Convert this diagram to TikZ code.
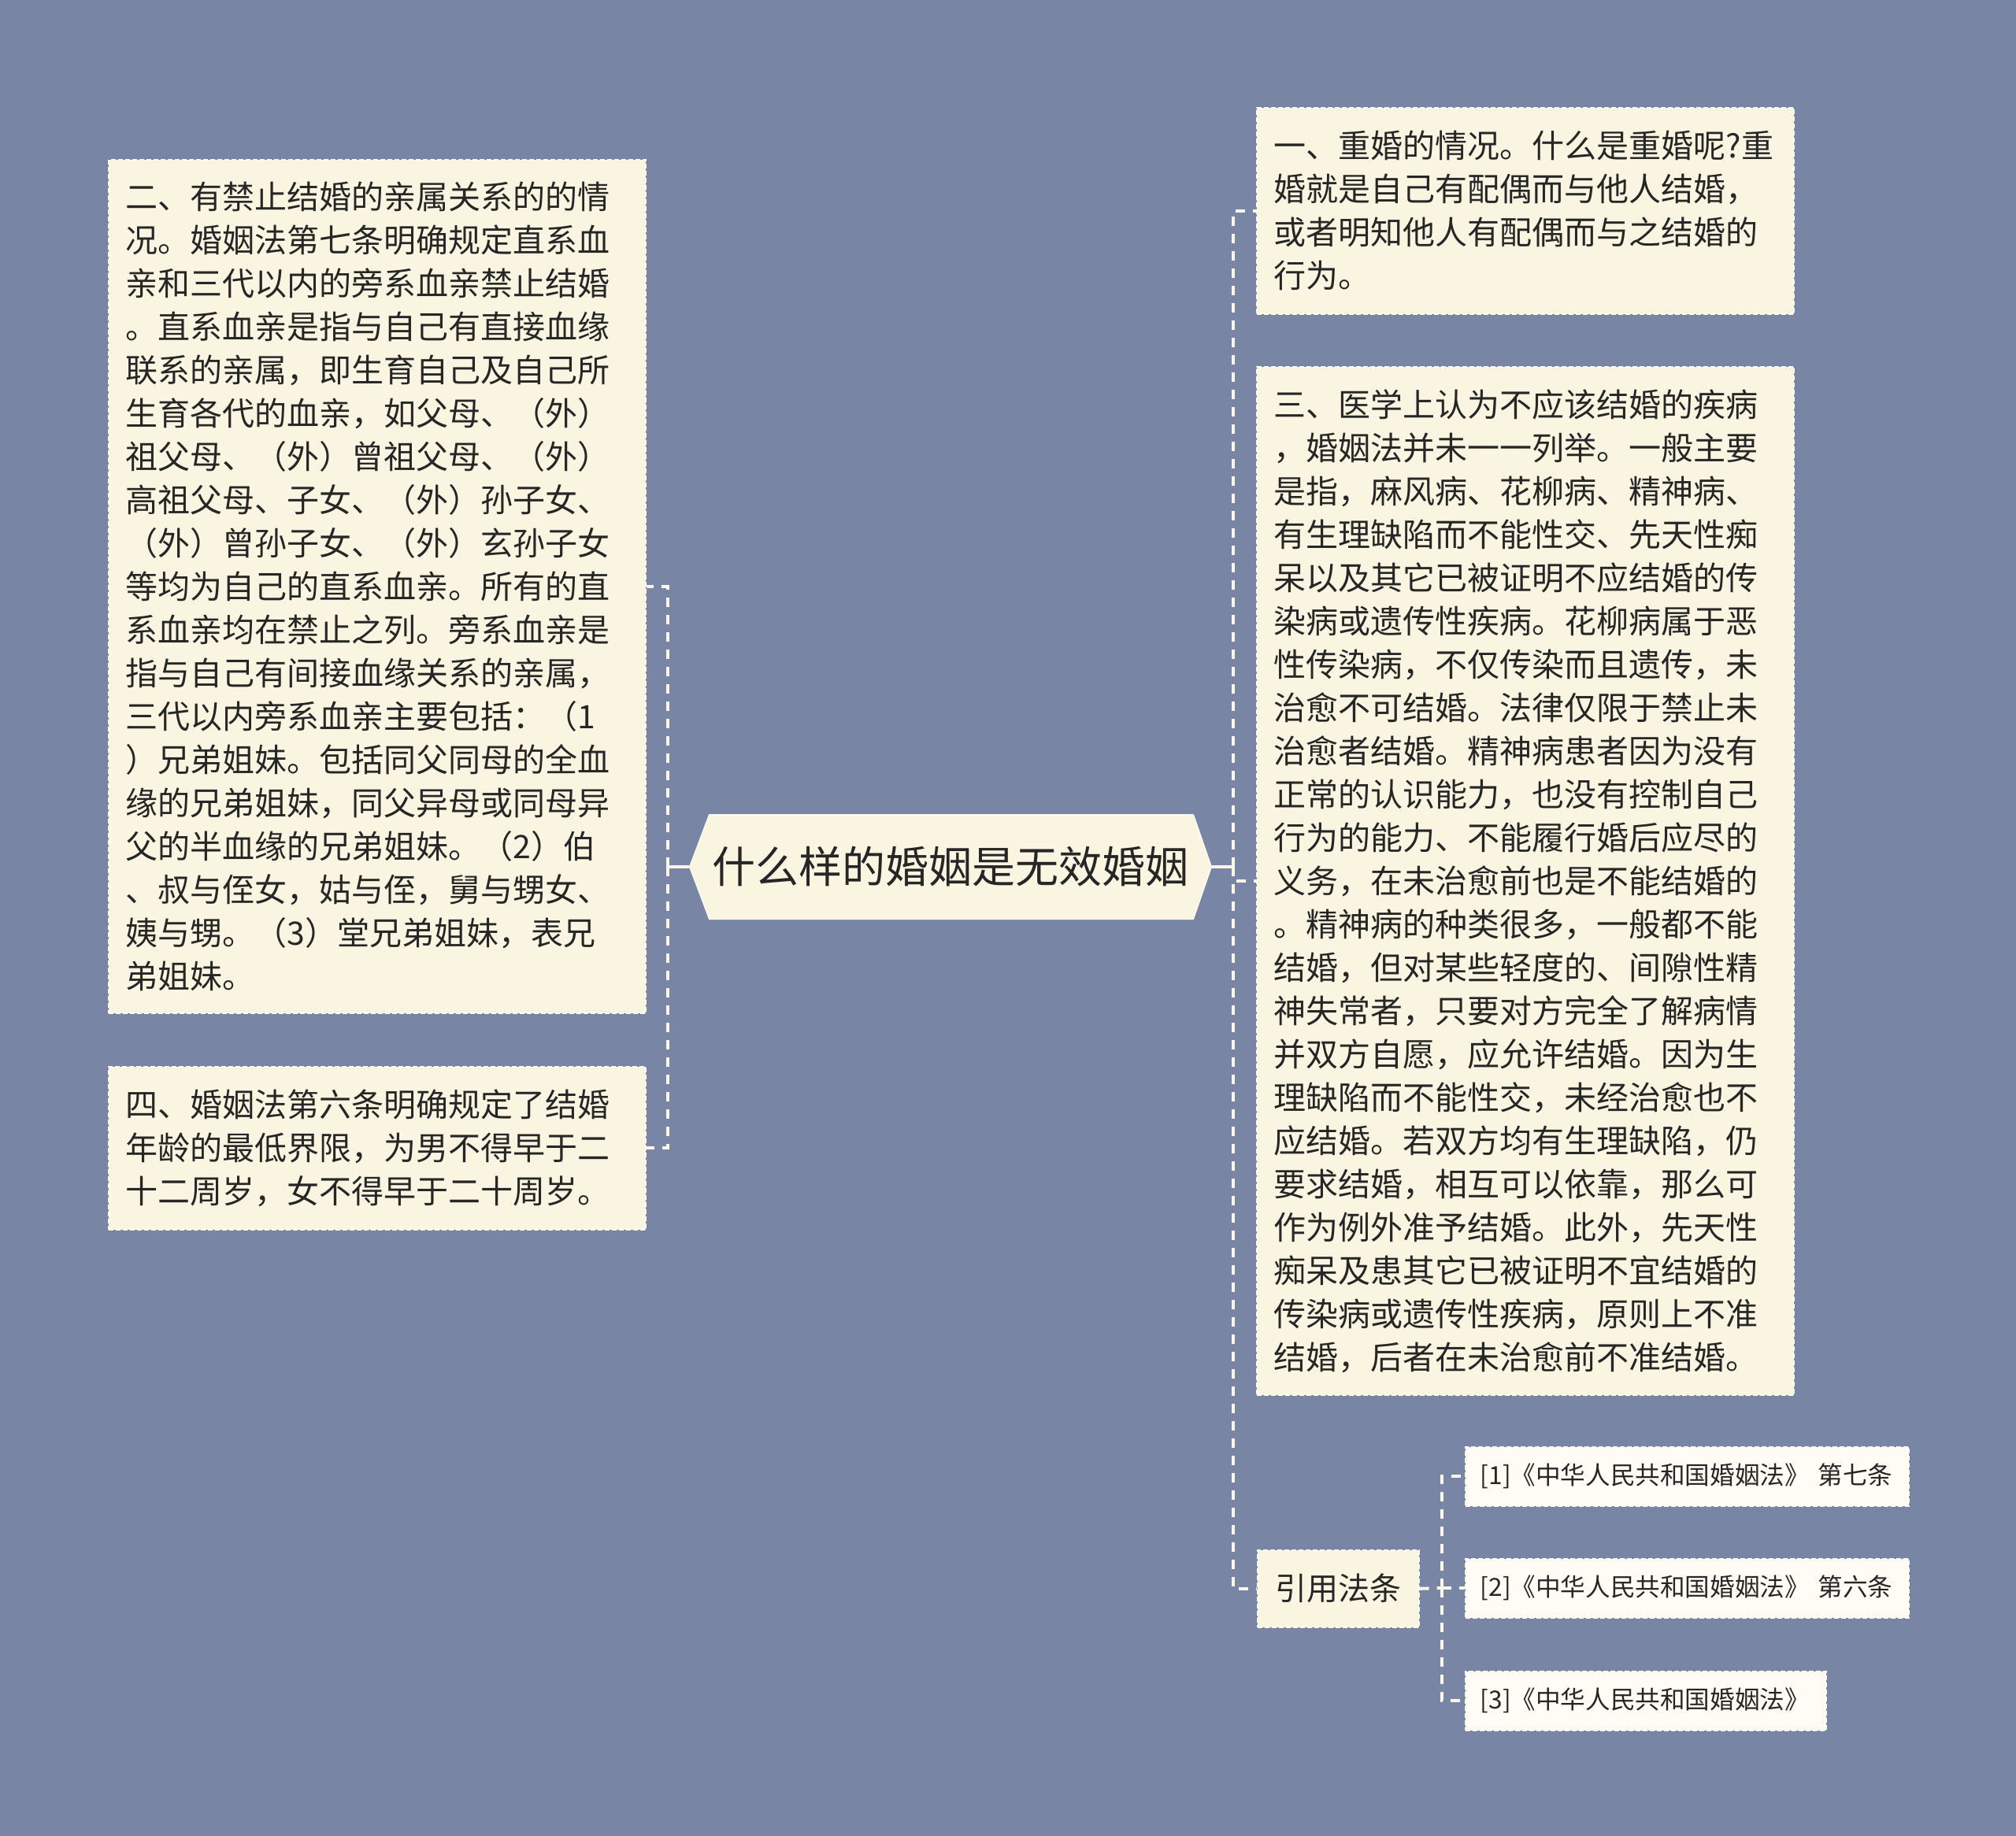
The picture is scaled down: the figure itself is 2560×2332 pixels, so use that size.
\documentclass[tikz,border=0pt]{standalone}
\usepackage{fontspec}
\setmainfont{Noto Sans CJK SC}
\usetikzlibrary{backgrounds,calc}
\definecolor{bg}{HTML}{7885A5}
\definecolor{cream}{HTML}{FAF5E1}
\definecolor{refc}{HTML}{FEFCF4}
\definecolor{linec}{HTML}{FAF6E8}
\definecolor{bordc}{HTML}{FFFDF2}
\definecolor{txt}{HTML}{262626}
\tikzset{
  box/.style={draw=bordc, fill=cream, line width=0.8pt, dash pattern=on 3pt off 1.5pt,
    inner xsep=11pt, inner ysep=0pt, text width=319pt, align=left, text=txt,
    font=\fontsize{20.5pt}{27.5pt}\selectfont, anchor=north west},
  citebox/.style={draw=bordc, fill=cream, line width=0.8pt, dash pattern=on 3pt off 1.5pt,
    inner sep=0pt, minimum width=102.5pt, minimum height=49pt, text=txt,
    font=\fontsize{20pt}{26pt}\selectfont, anchor=north west},
  refbox/.style={draw=bordc, fill=refc, line width=0.8pt, dash pattern=on 3pt off 1.5pt,
    inner xsep=9.5pt, inner ysep=0pt, minimum height=37.5pt, align=left, text=txt,
    font=\fontsize{15.8pt}{20pt}\selectfont, anchor=north west},
  rootnode/.style={inner sep=0pt, minimum width=331pt, minimum height=66pt, text=txt,
    font=\fontsize{27.5pt}{33pt}\selectfont},
  solidl/.style={draw=linec, line width=2pt},
  dashl/.style={draw=linec, line width=2pt, dash pattern=on 6pt off 5pt},
}
\begin{document}
\begin{tikzpicture}[x=0.5pt,y=-0.5pt]
\begin{scope}[on background layer]
\fill[bg] (0,0) rectangle (2560,2332);
\end{scope}
\useasboundingbox (0,0) rectangle (2560,2332);

% root
\node[rootnode] (root) at (1207,1101) {什么样的婚姻是无效婚姻};
\begin{scope}[on background layer]
\filldraw[fill=cream, draw=bordc, line width=0.6pt]
  ($(root.north west)+(25,0)$) -- ($(root.north east)+(-23,0)$) -- (root.east)
  -- ($(root.south east)+(-23,0)$) -- ($(root.south west)+(25,0)$) -- (root.west) -- cycle;
\end{scope}

% left boxes
\node[box, minimum height=542pt] (L1) at (137,202) {二、有禁止结婚的亲属关系的的情\\
况。婚姻法第七条明确规定直系血\\
亲和三代以内的旁系血亲禁止结婚\\
。直系血亲是指与自己有直接血缘\\
联系的亲属，即生育自己及自己所\\
生育各代的血亲，如父母、（外）\\
祖父母、（外）曾祖父母、（外）\\
高祖父母、子女、（外）孙子女、\\
（外）曾孙子女、（外）玄孙子女\\
等均为自己的直系血亲。所有的直\\
系血亲均在禁止之列。旁系血亲是\\
指与自己有间接血缘关系的亲属，\\
三代以内旁系血亲主要包括：（1\\
）兄弟姐妹。包括同父同母的全血\\
缘的兄弟姐妹，同父异母或同母异\\
父的半血缘的兄弟姐妹。（2）伯\\
、叔与侄女，姑与侄，舅与甥女、\\
姨与甥。（3）堂兄弟姐妹，表兄\\
弟姐妹。};

\node[box, minimum height=103.5pt] (L2) at (137,1354) {四、婚姻法第六条明确规定了结婚\\
年龄的最低界限，为男不得早于二\\
十二周岁，女不得早于二十周岁。};

% right boxes
\node[box, minimum height=131pt] (R1) at (1595,136) {一、重婚的情况。什么是重婚呢?重\\
婚就是自己有配偶而与他人结婚，\\
或者明知他人有配偶而与之结婚的\\
行为。};

\node[box, minimum height=653pt] (R2) at (1595,465) {三、医学上认为不应该结婚的疾病\\
，婚姻法并未一一列举。一般主要\\
是指，麻风病、花柳病、精神病、\\
有生理缺陷而不能性交、先天性痴\\
呆以及其它已被证明不应结婚的传\\
染病或遗传性疾病。花柳病属于恶\\
性传染病，不仅传染而且遗传，未\\
治愈不可结婚。法律仅限于禁止未\\
治愈者结婚。精神病患者因为没有\\
正常的认识能力，也没有控制自己\\
行为的能力、不能履行婚后应尽的\\
义务，在未治愈前也是不能结婚的\\
。精神病的种类很多，一般都不能\\
结婚，但对某些轻度的、间隙性精\\
神失常者，只要对方完全了解病情\\
并双方自愿，应允许结婚。因为生\\
理缺陷而不能性交，未经治愈也不\\
应结婚。若双方均有生理缺陷，仍\\
要求结婚，相互可以依靠，那么可\\
作为例外准予结婚。此外，先天性\\
痴呆及患其它已被证明不宜结婚的\\
传染病或遗传性疾病，原则上不准\\
结婚，后者在未治愈前不准结婚。};

\node[citebox] (cite) at (1596,1968) {引用法条};

\node[refbox, text width=262.5pt] (ref1) at (1860,1837) {\mbox{[1]《中华人民共和国婚姻法》 第七条}};
\node[refbox, text width=262.5pt] (ref2) at (1860,1979) {\mbox{[2]《中华人民共和国婚姻法》 第六条}};
\node[refbox, text width=210pt] (ref3) at (1860,2122) {\mbox{[3]《中华人民共和国婚姻法》}};

% connectors
\coordinate (lj) at (848,1101);
\coordinate (rj) at (1566,1101);
\coordinate (cj) at (1831,2017);

\draw[solidl] (root.west) -- (lj);
\draw[dashl] (lj) |- (L1.east);
\draw[dashl] (lj) |- (L2.east);

\draw[solidl] (root.east) -- (rj);
\draw[dashl] (rj) |- (R1.west);
\draw[dashl] (rj) |- (R2.west);
\draw[dashl] (rj) |- (cite.west);

\draw[dashl] (cite.east) -- (cj);
\draw[dashl] (cj) |- (ref1.west);
\draw[dashl] (cj) |- (ref2.west);
\draw[dashl] (cj) |- (ref3.west);
\end{tikzpicture}
\end{document}
